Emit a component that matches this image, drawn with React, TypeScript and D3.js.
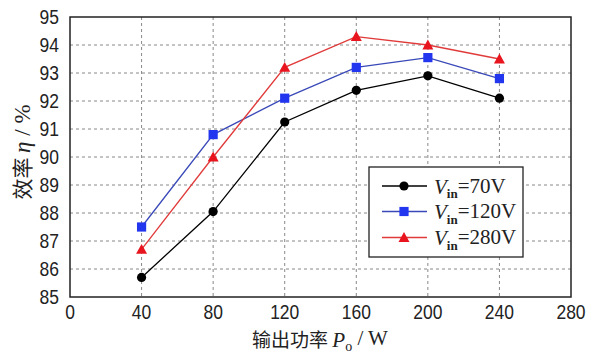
import React from "react";
import * as d3 from "d3";

const powers = [40, 80, 120, 160, 200, 240];
const eff70 = [85.7, 88.05, 91.25, 92.38, 92.9, 92.1];
const eff120 = [87.5, 90.8, 92.1, 93.2, 93.55, 92.8];
const eff280 = [86.7, 90.0, 93.2, 94.3, 94.0, 93.5];
const xTicks = [0, 40, 80, 120, 160, 200, 240, 280];
const yTicks = [85, 86, 87, 88, 89, 90, 91, 92, 93, 94, 95];
const seriesNames = ["70V", "120V", "280V"];

const W = 600, H = 363;
const L = 70, R = 571, T = 17, B = 297;

export default function App() {
  const x = d3.scaleLinear().domain([0, 280]).range([L, R]);
  const y = d3.scaleLinear().domain([85, 95]).range([B, T]);
  const line = d3.line<number>().x((_, i) => x(powers[i])).y((d) => y(d));
  const series = [
    { vals: eff70, line: "#000000", fill: "#000000", shape: "circle" },
    { vals: eff120, line: "#3a49b8", fill: "#2236f0", shape: "square" },
    { vals: eff280, line: "#e03a3a", fill: "#e8141e", shape: "triangle" },
  ];
  const marker = (shape: string, cx: number, cy: number, fill: string, key: any) => {
    if (shape === "circle") return <circle key={key} cx={cx} cy={cy} r={4.6} fill={fill} />;
    if (shape === "square") return <rect key={key} x={cx - 4.6} y={cy - 4.6} width={9.2} height={9.2} fill={fill} />;
    const s = 5.5;
    return <path key={key} d={`M${cx},${cy - s}L${cx + s},${cy + s * 0.8}L${cx - s},${cy + s * 0.8}Z`} fill={fill} />;
  };
  const numFont = "'Liberation Sans', Arial, sans-serif";
  const legX = 369, legY = 167, legW = 154, legH = 90;
  const rows = [186, 211.5, 237.5];
  return (
    <svg width={W} height={H} style={{ position: "absolute", left: 0, top: 0, background: "#fff" }}>
      <rect x={0} y={0} width={W} height={H} fill="#fff" />
      {xTicks.slice(1, -1).map((t) => (
        <line key={"gx" + t} x1={x(t)} x2={x(t)} y1={T} y2={B} stroke="#888" strokeWidth={1} strokeDasharray="3,3" />
      ))}
      {yTicks.slice(1, -1).map((t) => (
        <line key={"gy" + t} x1={L} x2={R} y1={y(t)} y2={y(t)} stroke="#888" strokeWidth={1} strokeDasharray="3,3" />
      ))}
      <rect x={L} y={T} width={R - L} height={B - T} fill="none" stroke="#222" strokeWidth={1.5} />
      {yTicks.map((t) => (
        <text key={"ty" + t} transform={`translate(59,${y(t)}) scale(0.92,1.08)`} dy="0.36em" textAnchor="end" fontFamily={numFont} fontSize={19} fill="#222">{t}</text>
      ))}
      {xTicks.map((t) => (
        <text key={"tx" + t} transform={`translate(${x(t)},312) scale(0.92,1.08)`} dy="0.36em" textAnchor="middle" fontFamily={numFont} fontSize={19} fill="#222">{t}</text>
      ))}
      {series.map((s, si) => (
        <g key={"s" + si}>
          <path d={line(s.vals) || ""} fill="none" stroke={s.line} strokeWidth={1.3} />
          {s.vals.map((v, i) => marker(s.shape, x(powers[i]), y(v), s.fill, i))}
        </g>
      ))}
      <rect x={legX} y={legY} width={legW} height={legH} fill="#fff" stroke="#222" strokeWidth={1.3} />
      {series.map((s, i) => (
        <g key={"l" + i}>
          <line x1={382} x2={427} y1={rows[i]} y2={rows[i]} stroke={s.line} strokeWidth={1.3} />
          {marker(s.shape, 404, rows[i], s.fill, "m")}
          <text x={434} y={rows[i]} dy="0.36em" fontFamily="'Liberation Serif', 'Times New Roman', serif" fontSize={21} fill="#222">
            <tspan fontStyle="italic">V</tspan>
            <tspan fontSize={13} fontWeight="bold" dy="0.35em">in</tspan>
            <tspan dy="-0.25em">={seriesNames[i]}</tspan>
          </text>
        </g>
      ))}
      <text x={320} y={340} dy="0.36em" textAnchor="middle" fontFamily="'Noto Sans CJK SC', sans-serif" fontSize={19} fill="#222">
        输出功率 <tspan fontFamily="'Liberation Serif', serif" fontStyle="italic" fontSize={21}>P</tspan>
        <tspan fontFamily="'Liberation Serif', serif" fontSize={14} dy="0.3em">o</tspan>
        <tspan fontFamily="'Liberation Serif', serif" fontSize={21} dy="-0.3em"> / W</tspan>
      </text>
      <text transform={`translate(22,152) rotate(-90)`} dy="0.36em" textAnchor="middle" fontFamily="'Noto Sans CJK SC', sans-serif" fontSize={21} fill="#222">
        效率 <tspan fontFamily="'Liberation Serif', serif" fontStyle="italic" fontSize={23}>η</tspan>
        <tspan fontFamily="'Liberation Serif', serif" fontSize={23}> / %</tspan>
      </text>
    </svg>
  );
}
